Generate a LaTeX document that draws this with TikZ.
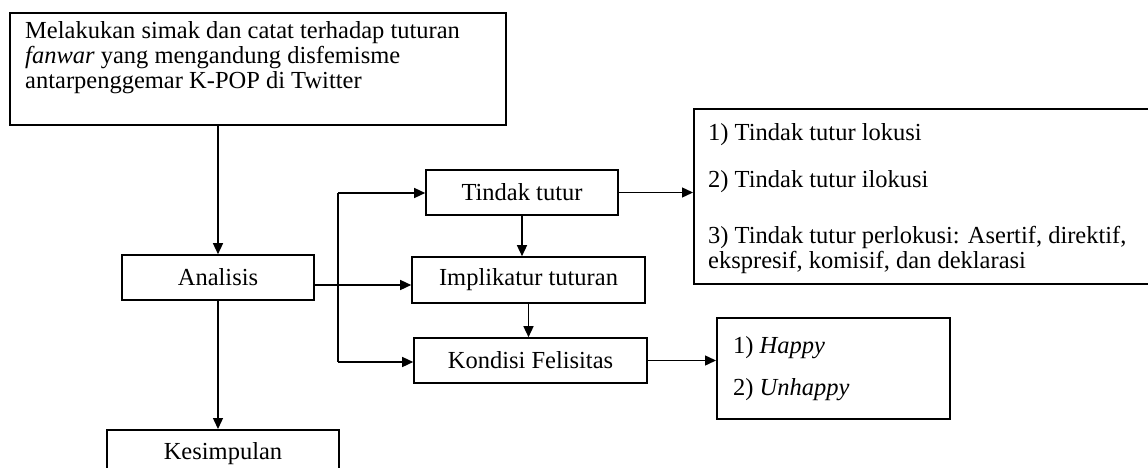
\documentclass[tikz,border=0pt]{standalone}
\usepackage{fontspec}
\setmainfont{Liberation Serif}
\usetikzlibrary{arrows.meta,calc}
\begin{document}
\begin{tikzpicture}[x=1pt,y=-1pt,
  font=\fontsize{24.5}{25}\selectfont,
  box/.style={draw, line width=1.6pt, inner sep=0pt, rectangle},
  txt/.style={inner sep=0pt, anchor=base west},
  arr/.style={line width=1.4pt, -{Triangle[length=11pt,width=10pt]}},
  ln/.style={line width=1.4pt}]
\useasboundingbox (0,0) rectangle (1148,468);
% boxes
\node[box, minimum width=496pt, minimum height=112pt] (top) at (258,69) {};
\node[txt] (t1) at (25,39) {Melakukan simak dan catat terhadap tuturan};
\node[txt] (t2) at (25,64) {\textit{fanwar} yang mengandung disfemisme};
\node[txt] (t3) at (25,89) {antarpenggemar K-POP di Twitter};
\node[box, minimum width=192pt, minimum height=45pt] (ana) at (218,277.5) {Analisis};
\node[box, minimum width=232pt, minimum height=60pt, anchor=north] (kes) at (223,429) {};
\node[txt, anchor=base] (kest) at (223,459) {Kesimpulan};
\node[box, minimum width=192pt, minimum height=45pt] (tt) at (522,192.5) {Tindak tutur};
\node[box, minimum width=233pt, minimum height=46pt] (imp) at (528.5,280) {Implikatur tuturan};
\node[box, minimum width=233pt, minimum height=45pt] (kf) at (530.5,360.5) {Kondisi Felisitas};
\node[box, minimum width=470pt, minimum height=175pt, anchor=north west] (big) at (693,108) {};
\node[txt] (b1) at (708,140) {1) Tindak tutur lokusi};
\node[txt] (b2) at (708,187) {2) Tindak tutur ilokusi};
\node[txt] (b3) at (708,243) {3) Tindak tutur perlokusi: Asertif, direktif,};
\node[txt] (b4) at (708,268) {ekspresif, komisif, dan deklarasi};
\node[box, minimum width=233pt, minimum height=101pt, anchor=north west] (hap) at (716,317) {};
\node[txt] (h1) at (733,353) {1) \textit{Happy}};
\node[txt] (h2) at (733,395) {2) \textit{Unhappy}};
% connectors
\coordinate (bt) at (338,193);
\coordinate (bb) at (338,362);
\coordinate (ao) at (314,285);
\draw[arr] (top.south -| ana.north) -- (ana.north);
\draw[arr] (ana.south) -- (ana.south |- kes.north);
\draw[arr] (ao) -- (ao -| imp.west);
\draw[ln] (bt) -- (bb);
\draw[arr] (bt) -- (bt -| tt.west);
\draw[arr] (bb) -- (bb -| kf.west);
\draw[arr] (tt.south) -- (tt.south |- imp.north);
\draw[arr] (imp.south) -- (imp.south |- kf.north);
\draw[arr] (tt.east) -- (tt.east -| big.west);
\draw[arr] (kf.east) -- (kf.east -| hap.west);
\end{tikzpicture}
\end{document}
